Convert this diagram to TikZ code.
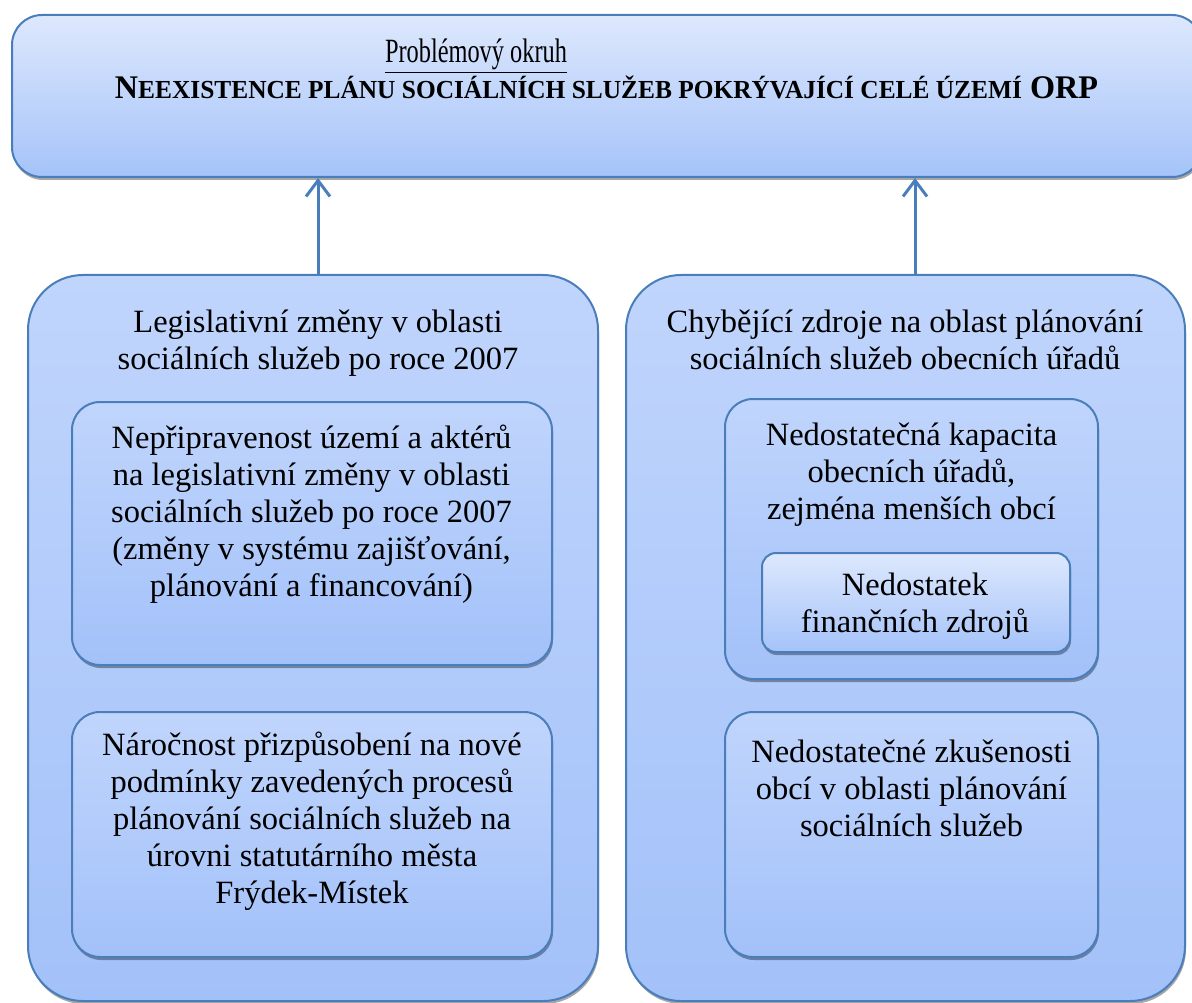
\documentclass[tikz,border=0pt]{standalone}
\usepackage{fontspec}
\setmainfont{Liberation Serif}
\usepackage{graphicx}
\usetikzlibrary{shadows,arrows.meta}
\definecolor{bord}{HTML}{4A7EBB}
\definecolor{lighttop}{HTML}{DDE8FD}
\definecolor{lightbot}{HTML}{A5C3F9}
\definecolor{midtop}{HTML}{C0D5FC}
\definecolor{midbot}{HTML}{A3C1F9}
\begin{document}
\begin{tikzpicture}[x=1pt,y=-1pt,
  box/.style={rectangle, draw=bord, line width=2pt, inner sep=0pt,
    top color=midtop, bottom color=midbot,
    drop shadow={shadow xshift=1pt, shadow yshift=-3pt, fill=black, opacity=0.35}},
  lightbox/.style={box, top color=lighttop, bottom color=lightbot},
  txt/.style={align=center, inner sep=0pt, anchor=base,
    font=\fontsize{32.5}{37}\selectfont},
  arr/.style={draw=bord, line width=3pt,
    -{Straight Barb[length=16pt,width=24pt,line width=3pt]}}]
\useasboundingbox (0,0) rectangle (1192,1003);

% boxes
\node[lightbox, rounded corners=30pt, minimum width=1190pt, minimum height=162pt] (top) at (607,96) {};
\node[box, rounded corners=55pt, minimum width=570pt, minimum height=726pt] (outerL) at (313,638) {};
\node[box, rounded corners=55pt, minimum width=559pt, minimum height=726pt] (outerR) at (905.5,638) {};
\node[box, rounded corners=28pt, minimum width=480pt, minimum height=263pt] (inL1) at (312,533.5) {};
\node[box, rounded corners=28pt, minimum width=480pt, minimum height=245pt] (inL2) at (312,834.5) {};
\node[box, rounded corners=28pt, minimum width=373pt, minimum height=280pt] (inR1) at (911.5,539) {};
\node[lightbox, rounded corners=14pt, minimum width=308pt, minimum height=99pt] (nest) at (916,602.5) {};
\node[box, rounded corners=28pt, minimum width=373pt, minimum height=245pt] (inR2) at (911.5,834.5) {};

% arrows
\draw[arr] ([xshift=5pt]outerL.north) -- ([xshift=5pt]outerL.north |- top.south);
\draw[arr] ([xshift=9.5pt]outerR.north) -- ([xshift=9.5pt]outerR.north |- top.south);

% texts
\node[inner sep=0pt, anchor=base] (t1) at (476,63)
  {\resizebox{182pt}{\height}{\fontsize{34}{34}\selectfont\underline{Problémový okruh}}};
\node[inner sep=0pt, anchor=base] (t2) at (606.5,99)
  {\resizebox{983pt}{\height}{\bfseries\fontsize{33}{33}\selectfont N{\fontsize{26}{26}\selectfont EEXISTENCE PLÁNU SOCIÁLNÍCH SLUŽEB POKRÝVAJÍCÍ CELÉ ÚZEMÍ} ORP}};

\node[txt] (l0) at (318,369) {Legislativní změny v oblasti\\sociálních služeb po roce 2007};
\node[txt] (l1) at (311.5,596) {Nepřipravenost území a aktérů\\na legislativní změny v oblasti\\sociálních služeb po roce 2007\\(změny v systému zajišťování,\\plánování a financování)};
\node[txt] (l2) at (312,903) {Náročnost přizpůsobení na nové\\podmínky zavedených procesů\\plánování sociálních služeb na\\úrovni statutárního města\\Frýdek-Místek};

\node[txt] (r0) at (905,369) {Chybějící zdroje na oblast plánování\\sociálních služeb obecních úřadů};
\node[txt] (r1) at (911.5,519) {Nedostatečná kapacita\\obecních úřadů,\\zejména menších obcí};
\node[txt] (r2) at (915,632) {Nedostatek\\finančních zdrojů};
\node[txt] (r3) at (911.5,836) {Nedostatečné zkušenosti\\obcí v oblasti plánování\\sociálních služeb};
\end{tikzpicture}
\end{document}
